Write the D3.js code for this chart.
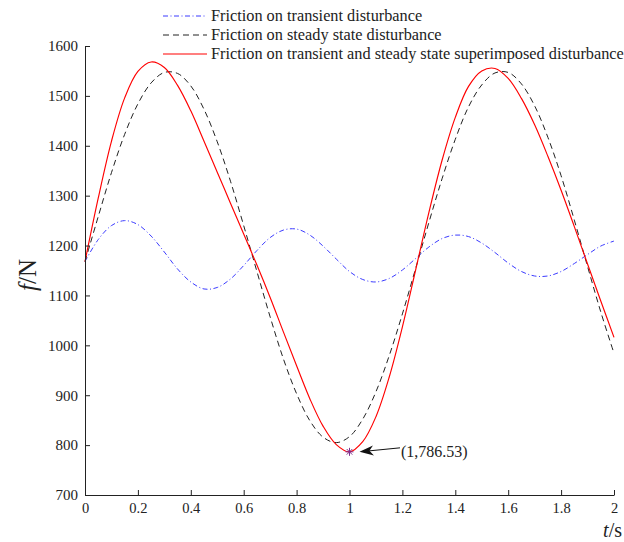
<!DOCTYPE html>
<html>
<head>
<meta charset="utf-8">
<script src="https://cdn.jsdelivr.net/npm/d3@7"></script>
<style>
  body { margin: 0; background: #fff; }
  svg { font-family: "Liberation Serif", "Times New Roman", serif; }
</style>
</head>
<body>
<div id="chart"></div>
<script>
// time samples (s)
const time = [0, 0.05, 0.1, 0.15, 0.2, 0.25, 0.3, 0.35, 0.4, 0.45, 0.5, 0.55, 0.6, 0.65, 0.7, 0.75, 0.8, 0.85, 0.9, 0.95,
  1, 1.05, 1.1, 1.15, 1.2, 1.25, 1.3, 1.35, 1.4, 1.45, 1.5, 1.55, 1.6, 1.65, 1.7, 1.75, 1.8, 1.85, 1.9, 1.95, 2];

// friction on transient disturbance (N)
const transientF = [1168, 1212, 1240, 1250, 1242, 1219, 1187, 1153, 1127, 1113, 1116, 1133, 1160, 1190, 1216, 1231, 1233, 1221, 1199, 1173,
  1148, 1132, 1127, 1134, 1151, 1174, 1197, 1214, 1221, 1218, 1205, 1186, 1165, 1148, 1139, 1139, 1148, 1164, 1182, 1199, 1209];

// friction on steady state disturbance (N)
const steadyF = [1168, 1258, 1346, 1423, 1484, 1526, 1547, 1545, 1520, 1473, 1408, 1329, 1240, 1148, 1057, 973, 903, 849, 816, 805,
  817, 852, 907, 979, 1063, 1154, 1246, 1334, 1413, 1478, 1522, 1546, 1547, 1524, 1480, 1417, 1340, 1251, 1158, 1067, 984];

// friction on superimposed disturbance (N)
const superF = [1168, 1295, 1409, 1496, 1549, 1568, 1557, 1521, 1470, 1409, 1347, 1285, 1223, 1161, 1096, 1027, 959, 893, 838, 801,
  786.53, 807, 857, 936, 1037, 1151, 1266, 1371, 1457, 1519, 1550, 1555, 1535, 1495, 1442, 1379, 1311, 1238, 1163, 1089, 1016];

const xTicks = [0, 0.2, 0.4, 0.6, 0.8, 1, 1.2, 1.4, 1.6, 1.8, 2];
const yTicks = [700, 800, 900, 1000, 1100, 1200, 1300, 1400, 1500, 1600];
const legendLabels = [
  "Friction on transient disturbance",
  "Friction on steady state disturbance",
  "Friction on transient and steady state superimposed disturbance"
];
const minPoint = { t: 1, f: 786.53, label: "(1,786.53)" };

const width = 624, height = 542;
const margin = { top: 46, right: 10, bottom: 47, left: 85 };

const svg = d3.select("#chart").append("svg")
  .attr("width", width)
  .attr("height", height);

svg.append("rect").attr("width", width).attr("height", height).attr("fill", "#fff");

const x = d3.scaleLinear().domain([0, 2]).range([margin.left, width - margin.right]);
const y = d3.scaleLinear().domain([700, 1600]).range([height - margin.bottom, margin.top]);

// series styles
const series = [
  { values: transientF, color: "#3b3bff", width: 1, dash: "5,2.5,1,2.5" },
  { values: steadyF, color: "#222", width: 1, dash: "6,4" },
  { values: superF, color: "#ff0000", width: 1.15, dash: null }
];

const line = d3.line()
  .x((d, i) => x(time[i]))
  .y(d => y(d))
  .curve(d3.curveCatmullRom.alpha(0.5));

svg.append("g").selectAll("path")
  .data(series)
  .enter().append("path")
  .attr("d", d => line(d.values))
  .attr("fill", "none")
  .attr("stroke", d => d.color)
  .attr("stroke-width", d => d.width)
  .attr("stroke-dasharray", d => d.dash);

// axes, ticks pointing inward
const xAxis = svg.append("g")
  .attr("transform", "translate(0," + y(700) + ")")
  .call(d3.axisBottom(x).tickValues(xTicks).tickSizeInner(-5).tickSizeOuter(0).tickPadding(8)
    .tickFormat(d3.format("")));
const yAxis = svg.append("g")
  .attr("transform", "translate(" + x(0) + ",0)")
  .call(d3.axisLeft(y).tickValues(yTicks).tickSizeInner(-5).tickSizeOuter(0).tickPadding(7)
    .tickFormat(d3.format("d")));

[xAxis, yAxis].forEach(g => {
  g.attr("font-family", "'Liberation Serif', 'Times New Roman', serif").attr("font-size", 15);
  g.select(".domain").attr("stroke", "#222");
  g.selectAll(".tick line").attr("stroke", "#222");
  g.selectAll(".tick text").attr("fill", "#222");
});
xAxis.attr("font-size", 14.5);

// axis titles
svg.append("text")
  .attr("transform", "translate(36,275) rotate(-90)")
  .attr("text-anchor", "middle")
  .attr("font-size", 25)
  .attr("fill", "#222")
  .html('<tspan font-style="italic">f</tspan>/N');

svg.append("text")
  .attr("x", 622)
  .attr("y", 537)
  .attr("text-anchor", "end")
  .attr("font-size", 20)
  .attr("fill", "#222")
  .html('<tspan font-style="italic">t</tspan>/s');

// minimum marker (asterisk)
const mx = x(minPoint.t), my = y(minPoint.f), r = 4;
const star = svg.append("g").attr("stroke", "#7e2f8e").attr("stroke-width", 1);
[[-r, 0, r, 0], [0, -r, 0, r], [-r * 0.7, -r * 0.7, r * 0.7, r * 0.7], [-r * 0.7, r * 0.7, r * 0.7, -r * 0.7]].forEach(s => {
  star.append("line")
    .attr("x1", mx + s[0]).attr("y1", my + s[1])
    .attr("x2", mx + s[2]).attr("y2", my + s[3]);
});

// annotation arrow
const tipX = mx + 10, tipY = my, tailX = 400, tailY = my - 4;
const ang = Math.atan2(tailY - tipY, tailX - tipX);
svg.append("line")
  .attr("x1", tailX).attr("y1", tailY)
  .attr("x2", tipX + 8 * Math.cos(ang)).attr("y2", tipY + 8 * Math.sin(ang))
  .attr("stroke", "#111").attr("stroke-width", 1);
const headPts = [[0, 0], [14, -5], [10, 0], [14, 5]].map(p => {
  const c = Math.cos(ang), s = Math.sin(ang);
  return [tipX + p[0] * c - p[1] * s, tipY + p[0] * s + p[1] * c];
});
svg.append("path")
  .attr("d", "M" + headPts.join("L") + "Z")
  .attr("fill", "#111");

svg.append("text")
  .attr("x", 401)
  .attr("y", my + 5)
  .attr("font-size", 16)
  .attr("fill", "#222")
  .text(minPoint.label);

// legend
const legend = svg.append("g").attr("transform", "translate(163,16)");
const legendRow = legend.selectAll("g")
  .data(series)
  .enter().append("g")
  .attr("transform", (d, i) => "translate(0," + i * 19 + ")");

legendRow.append("line")
  .attr("x1", 0).attr("x2", 44)
  .attr("stroke", d => d.color)
  .attr("stroke-width", d => d.width)
  .attr("stroke-dasharray", d => d.dash);

legendRow.append("text")
  .attr("x", 48)
  .attr("y", 5)
  .attr("font-size", 16.3)
  .attr("fill", "#222")
  .text((d, i) => legendLabels[i]);
</script>
</body>
</html>
